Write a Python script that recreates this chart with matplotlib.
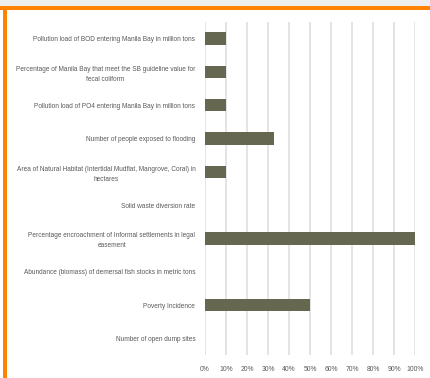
import matplotlib
matplotlib.use("Agg")
import matplotlib.pyplot as plt
from matplotlib.patches import Rectangle
import numpy as np

indicators = [
    "Pollution load of BOD entering Manila Bay in million tons",
    "Percentage of Manila Bay that meet the SB guideline value for\nfecal coliform",
    "Pollution load of PO4 entering Manila Bay in million tons",
    "Number of people exposed to flooding",
    "Area of Natural Habitat (Intertidal Mudflat, Mangrove, Coral) in\nhectares",
    "Solid waste diversion rate",
    "Percentage encroachment of Informal settlements in legal\neasement",
    "Abundance (biomass) of demersal fish stocks in metric tons",
    "Poverty Incidence",
    "Number of open dump sites",
]
progress = [0.10, 0.10, 0.10, 0.33, 0.10, 0.0, 1.00, 0.0, 0.50, 0.0]
ticks = [i / 10 for i in range(11)]
tick_labels = [f"{int(t * 100)}%" for t in ticks]

plt.rcParams['font.family'] = ['Liberation Sans', 'DejaVu Sans']
grey = '#595959'

fig = plt.figure(figsize=(4.31, 3.78), dpi=100)
W, H = 431, 378

# page background strip and orange frame
fig.patches.append(Rectangle((0, 1 - 6 / H), 1, 6 / H, transform=fig.transFigure,
                             facecolor='#eeeeee', edgecolor='none', zorder=0))
fig.patches.append(Rectangle((0, 1 - 10 / H), 1, 4 / H, transform=fig.transFigure,
                             facecolor='#ff8200', edgecolor='none', zorder=1))
fig.patches.append(Rectangle((3 / W, 0), 4 / W, 1 - 6 / H, transform=fig.transFigure,
                             facecolor='#ff8200', edgecolor='none', zorder=1))

ax = fig.add_axes([205 / W, 1 - 355 / H, 210 / W, 333 / H])
y = np.arange(len(indicators))
ax.barh(y, progress, height=0.37, color='#656750', edgecolor='none', zorder=3)
ax.set_ylim(len(indicators) - 0.5, -0.5)
ax.set_xlim(0, 1)
ax.set_xticks(ticks)
ax.set_xticklabels(tick_labels, fontsize=4.9, color=grey)
ax.set_yticks(y)
ax.set_yticklabels(indicators, fontsize=4.7, color=grey, multialignment='center',
                   linespacing=1.55)
ax.tick_params(axis='both', length=0)
ax.tick_params(axis='y', pad=7)
ax.tick_params(axis='x', pad=8)
ax.grid(axis='x', color='#dcdcdc', linewidth=1.1, zorder=0)
for s in ax.spines.values():
    s.set_visible(False)

fig.savefig("out.png", dpi=100)
